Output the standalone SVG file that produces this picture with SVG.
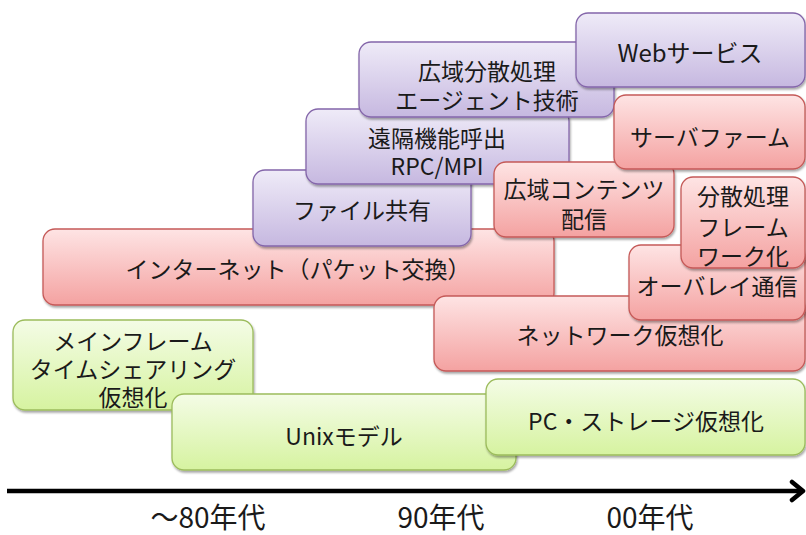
<svg xmlns="http://www.w3.org/2000/svg" width="806" height="535" viewBox="0 0 806 535">
<defs>
<linearGradient id="gP" x1="0" y1="0" x2="0" y2="1"><stop offset="0" stop-color="#efebf8"/><stop offset="1" stop-color="#c6b8e0"/></linearGradient>
<linearGradient id="gR" x1="0" y1="0" x2="0" y2="1"><stop offset="0" stop-color="#fee4e4"/><stop offset="1" stop-color="#f4a2a1"/></linearGradient>
<linearGradient id="gG" x1="0" y1="0" x2="0" y2="1"><stop offset="0" stop-color="#f4fce6"/><stop offset="1" stop-color="#d6f3a0"/></linearGradient>
<filter id="sh" x="-5%" y="-5%" width="110%" height="120%"><feDropShadow dx="1" dy="2" stdDeviation="1" flood-color="#000" flood-opacity="0.35"/></filter>
</defs>
<style>
.p{fill:url(#gP);stroke:#8466aa;stroke-width:1.3;filter:url(#sh)}
.r{fill:url(#gR);stroke:#c55a58;stroke-width:1.3;filter:url(#sh)}
.g{fill:url(#gG);stroke:#9cbc5c;stroke-width:1.3;filter:url(#sh)}
text{font-family:"Noto Sans CJK JP","Noto Sans",sans-serif;font-size:23px;fill:#1a1a1a;text-anchor:middle;dominant-baseline:central}
.yr{font-size:28px;dominant-baseline:alphabetic}
</style>
<rect width="806" height="535" fill="#fff"/>
<g id="internet"><rect class="r" x="43" y="229" width="511" height="76" rx="12"/><text x="298" y="268">インターネット（パケット交換）</text></g>
<g id="file"><rect class="p" x="253" y="170" width="218" height="76" rx="12"/><text x="362" y="209">ファイル共有</text></g>
<g id="rpc"><rect class="p" x="306" y="109" width="263" height="75" rx="12"/><text x="437" y="137">遠隔機能呼出</text><text x="437" y="165">RPC/MPI</text></g>
<g id="agent"><rect class="p" x="359" y="42" width="255" height="75" rx="12"/><text x="487" y="70">広域分散処理</text><text x="487" y="99">エージェント技術</text></g>
<g id="web"><rect class="p" x="576" y="13" width="229" height="74" rx="12"/><text x="690" y="51" style="font-size:24px">Webサービス</text></g>
<g id="cdn"><rect class="r" x="494" y="162" width="180" height="75" rx="12"/><text x="584" y="188">広域コンテンツ</text><text x="584" y="218">配信</text></g>
<g id="farm"><rect class="r" x="614" y="95" width="191" height="74" rx="12"/><text x="710" y="136">サーバファーム</text></g>
<g id="netvirt"><rect class="r" x="434" y="296" width="371" height="75" rx="12"/><text x="620" y="334">ネットワーク仮想化</text></g>
<g id="overlay"><rect class="r" x="629" y="245" width="176" height="75" rx="12"/><text x="717" y="285">オーバレイ通信</text></g>
<g id="framework"><rect class="r" x="681" y="177" width="124" height="91" rx="12"/><text x="743" y="195">分散処理</text><text x="743" y="226">フレーム</text><text x="743" y="255">ワーク化</text></g>
<g id="mainframe"><rect class="g" x="13" y="320" width="240" height="90" rx="12"/><text x="133" y="340">メインフレーム</text><text x="133" y="368">タイムシェアリング</text><text x="133" y="396">仮想化</text></g>
<g id="unix"><rect class="g" x="172" y="394" width="344" height="76" rx="12"/><text x="344" y="435">Unixモデル</text></g>
<g id="pc"><rect class="g" x="486" y="379" width="319" height="76" rx="12"/><text x="646" y="420">PC・ストレージ仮想化</text></g>
<g id="axis">
<line x1="7" y1="491" x2="802" y2="491" stroke="#000" stroke-width="4.5"/>
<polyline points="792,482 803,491 792,500" fill="none" stroke="#000" stroke-width="4.5" stroke-linecap="round" stroke-linejoin="round"/>
</g>
<g id="labels">
<text class="yr" x="208" y="528">～80年代</text>
<text class="yr" x="441" y="528">90年代</text>
<text class="yr" x="650" y="528">00年代</text>
</g>
</svg>
